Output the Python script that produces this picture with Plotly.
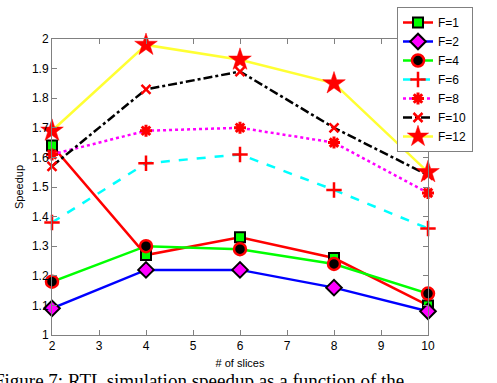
import plotly.graph_objects as go

slices = [2, 4, 6, 8, 10]
f1 = [1.64, 1.27, 1.33, 1.26, 1.10]
f2 = [1.09, 1.22, 1.22, 1.16, 1.08]
f4 = [1.18, 1.30, 1.29, 1.24, 1.14]
f6 = [1.38, 1.58, 1.61, 1.49, 1.36]
f8 = [1.61, 1.69, 1.70, 1.65, 1.48]
f10 = [1.57, 1.83, 1.89, 1.70, 1.54]
f12 = [1.69, 1.98, 1.93, 1.85, 1.55]
names = ["F=1", "F=2", "F=4", "F=6", "F=8", "F=10", "F=12"]
xticks = [2, 3, 4, 5, 6, 7, 8, 9, 10]
yticks = [1, 1.1, 1.2, 1.3, 1.4, 1.5, 1.6, 1.7, 1.8, 1.9, 2]

series = [f1, f2, f4, f6, f8, f10, f12]
styles = [
    dict(line=dict(color="#ff0000", width=2.5, dash="solid"),
         marker=dict(symbol="square", size=10, color="#00ff00", line=dict(color="black", width=2))),
    dict(line=dict(color="#0000ff", width=2.5, dash="solid"),
         marker=dict(symbol="diamond", size=12, color="#ff00ff", line=dict(color="black", width=2))),
    dict(line=dict(color="#00ff00", width=2.5, dash="solid"),
         marker=dict(symbol="circle", size=12, color="black", line=dict(color="#ff0000", width=2.5))),
    dict(line=dict(color="#00ffff", width=2.5, dash="dash"),
         marker=dict(symbol="cross-thin", size=11, color="#ff0000", line=dict(color="#ff0000", width=2.5))),
    dict(line=dict(color="#ff00ff", width=2.5, dash="dot"),
         marker=dict(symbol="asterisk", size=10, color="#ff0000", line=dict(color="#ff0000", width=3))),
    dict(line=dict(color="black", width=2.5, dash="dashdot"),
         marker=dict(symbol="x-thin", size=9, color="#ff0000", line=dict(color="#ff0000", width=2.5))),
    dict(line=dict(color="#ffff33", width=2.5, dash="solid"),
         marker=dict(symbol="star", size=17, color="#ff0000", line=dict(color="#ff0000", width=0.5))),
]

fig = go.Figure()
for name, ys, st in zip(names, series, styles):
    fig.add_trace(go.Scatter(x=slices, y=ys, name=name, mode="lines+markers",
                             line=st["line"], marker=st["marker"], cliponaxis=False))

axis_common = dict(showgrid=False, zeroline=False, showline=True, linecolor="#808080",
                   linewidth=1, mirror="ticks", ticks="inside", ticklen=5, tickcolor="#808080",
                   automargin=False,
                   tickfont=dict(family="Liberation Sans, Arial", size=12, color="black"))

fig.update_xaxes(range=[2, 10], tickvals=xticks, ticktext=[str(v) for v in xticks],
                 title=dict(text="# of slices", font=dict(family="Liberation Sans, Arial", size=11, color="black"),
                            standoff=6),
                 **axis_common)
fig.update_yaxes(range=[1, 2], tickvals=yticks, ticktext=[f"{v:g}" for v in yticks],
                 title=dict(text="Speedup", font=dict(family="Liberation Sans, Arial", size=11, color="black"),
                            standoff=6),
                 **axis_common)

fig.update_layout(
    width=497, height=383,
    margin=dict(l=52, r=69, t=39, b=48, autoexpand=False),
    paper_bgcolor="white", plot_bgcolor="white",
    showlegend=True,
    legend=dict(x=(397 - 52) / 376, y=(335 - 7) / 296, xanchor="left", yanchor="top",
                bgcolor="white", bordercolor="#808080", borderwidth=1,
                font=dict(family="Liberation Sans, Arial", size=12, color="black"),
                tracegroupgap=0, itemwidth=30),
    annotations=[dict(text="Figure 7: RTL simulation speedup as a function of the",
                      xref="paper", yref="paper", x=(-8 - 52) / 376, y=(335 - 368) / 296,
                      xanchor="left", yanchor="top", showarrow=False,
                      font=dict(family="Liberation Serif, Times New Roman", size=19, color="black"))],
)

fig.write_html("out.html", config={"displayModeBar": False},
               post_script="document.body.style.margin='0px';")
